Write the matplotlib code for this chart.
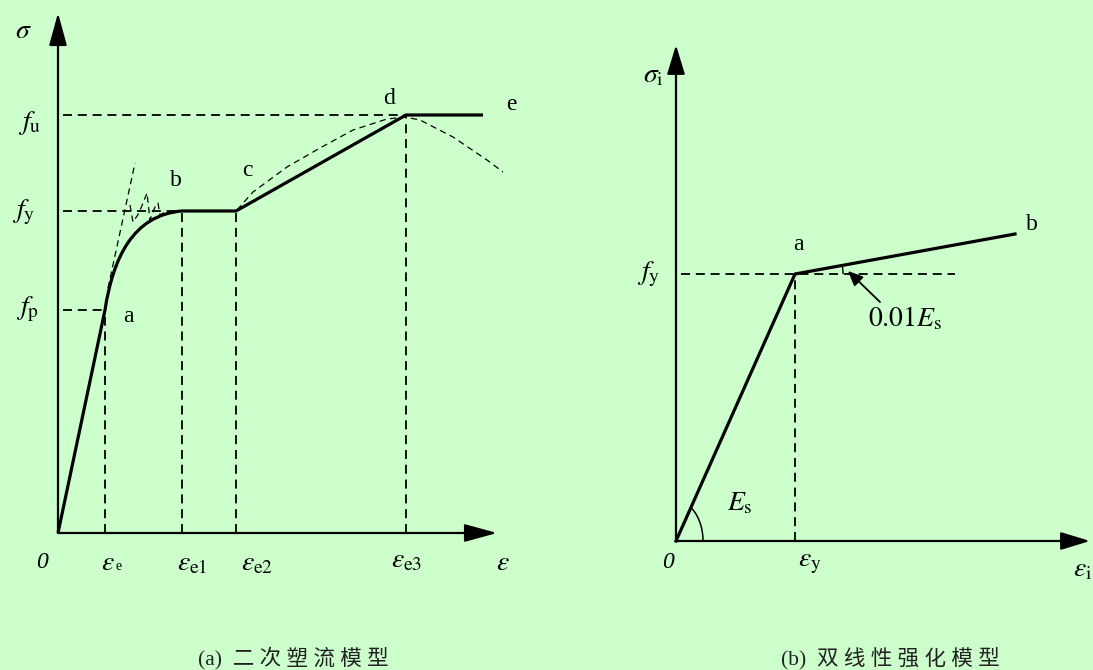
import numpy as np
import matplotlib
matplotlib.use("Agg")
import matplotlib.pyplot as plt
from matplotlib.path import Path
from matplotlib.patches import PathPatch, Arc

BG = "#ccffcc"

# (a) 二次塑流模型：示意单位的应力、应变
fp_a, fy_a, fu_a = 223, 322, 418
eps_e, eps_e1, eps_e2, eps_e3, eps_end = 47, 124, 178, 348, 425
# a→b 段的贝塞尔控制点
ab_ctrl = [(55, 275), (75, 318)]
# 细虚线：初始切线、屈服台阶附近的波动、强化与颈缩的实测曲线
tangent_x = [50, 77]
tangent_y = [245, 370]
wiggle_x = [72, 75, 81, 89, 92, 97, 100, 102, 107]
wiggle_y = [328, 311, 320, 340, 313, 326, 330, 318, 321]
test_x = [179, 195, 229, 262, 295, 329, 347, 362, 395, 429, 445]
test_y = [323, 341, 366, 385, 403, 414, 416, 413, 396, 373, 361]

# (b) 双线性强化模型
fy_b, eps_y = 267, 119
b_end_x, b_end_y = 339, 307
fy_line_end = 279

plt.rcParams["font.family"] = ["Liberation Serif", "Noto Sans CJK SC"]
plt.rcParams["mathtext.fontset"] = "stix"

fig = plt.figure(figsize=(10.93, 6.70), dpi=100, facecolor=BG)
W, H = 1093, 670

# 两个子图都按像素单位设置坐标，原点放在各自坐标轴交点
ax_a = fig.add_axes([0, 0, 0.5, 1])
ax_a.set_xlim(-58, W / 2 - 58)
ax_a.set_ylim(-(H - 533), 533)
ax_b = fig.add_axes([0.5, 0, 0.5, 1])
ax_b.set_xlim(W / 2 - 676, W - 676)
ax_b.set_ylim(-(H - 541), 541)
for ax in (ax_a, ax_b):
    ax.set_facecolor("none")
    ax.axis("off")

LW_MAIN = 2.3
DASH = dict(color="k", lw=1.3, ls=(0, (5, 3.2)))
THIN = dict(color="k", lw=0.9, ls=(0, (5, 3.5)))
LBL = dict(fontsize=17, ha="center", va="center")
MATH = dict(fontsize=20, ha="center", va="center")
ZERO = dict(fontsize=17, ha="center", va="center", style="italic")
CAP = dict(fontsize=15.5, ha="center", va="center", color="#222222")


def axis_arrows(ax, x_tip, y_tip, head):
    for tip in [(x_tip, 0), (0, y_tip)]:
        ax.annotate("", xy=tip, xytext=(0, 0),
                    arrowprops=dict(arrowstyle=head, color="k", lw=1.6,
                                    shrinkA=0, shrinkB=0))


# ---- (a) ----
ax = ax_a
axis_arrows(ax, 439, 520, "-|>,head_length=2.0,head_width=0.55")

verts = [(0, 0), (eps_e, fp_a), ab_ctrl[0], ab_ctrl[1], (eps_e1, fy_a),
         (eps_e2, fy_a), (eps_e3, fu_a), (eps_end, fu_a)]
codes = [Path.MOVETO, Path.LINETO, Path.CURVE4, Path.CURVE4, Path.CURVE4,
         Path.LINETO, Path.LINETO, Path.LINETO]
ax.add_patch(PathPatch(Path(verts, codes), fill=False, lw=LW_MAIN,
                       capstyle="butt", joinstyle="round"))

ax.plot([5, eps_e3], [fu_a, fu_a], **DASH)
ax.plot([5, eps_e1], [fy_a, fy_a], **DASH)
ax.plot([5, eps_e], [fp_a, fp_a], **DASH)
for ex, top in [(eps_e, fp_a), (eps_e1, fy_a), (eps_e2, fy_a), (eps_e3, fu_a)]:
    ax.plot([ex, ex], [0, top], **DASH)

ax.plot(tangent_x, tangent_y, **THIN)
ax.plot(wiggle_x, wiggle_y, **THIN)
ax.plot(test_x, test_y, **THIN)

ax.text(-35, 501, r"$\sigma$", **MATH)
ax.text(-28, 410, r"$f_{\rm u}$", **MATH)
ax.text(-34, 321, r"$f_{\rm y}$", **MATH)
ax.text(-31, 224, r"$f_{\rm p}$", **MATH)
for s, x, y in [("a", 70, 216), ("b", 118, 352), ("c", 189, 362),
                ("d", 331, 434), ("e", 453, 428)]:
    ax.text(x, y, s, **LBL)
ax.text(-16, -29, "0", **ZERO)
ax.text(50, -30, r"$\varepsilon$", **MATH)
ax.text(57, -33, "e", fontsize=10, ha="left", va="center")
ax.text(134, -31, r"$\varepsilon_{\rm e1}$", **MATH)
ax.text(199, -31, r"$\varepsilon_{\rm e2}$", **MATH)
ax.text(349, -28, r"$\varepsilon_{\rm e3}$", **MATH)
ax.text(445, -30, r"$\varepsilon$", **MATH)
ax.text(235, -125, "(a)  二 次 塑 流 模 型", **CAP)

# ---- (b) ----
ax = ax_b
axis_arrows(ax, 414, 496, "-|>,head_length=1.8,head_width=0.55")

ax.plot([0, eps_y, b_end_x], [0, fy_b, b_end_y], color="k", lw=LW_MAIN,
        solid_joinstyle="round")
ax.plot([5, fy_line_end], [fy_b, fy_b], **DASH)
ax.plot([eps_y, eps_y], [0, fy_b], **DASH)

# 弹性模量角标
k = fy_b / eps_y
ra, rb = 27, 40
t = np.linspace(0, np.arctan(k * ra / rb), 40)
ax.plot(ra * np.cos(t), rb * np.sin(t), color="k", lw=1.1)

# 强化段角标与指示箭头
slope_deg = np.degrees(np.arctan((b_end_y - fy_b) / (b_end_x - eps_y)))
ax.add_patch(Arc((eps_y, fy_b), 96, 96, theta1=0, theta2=slope_deg,
                 color="k", lw=1.0))
ax.annotate("", xy=(172, 270), xytext=(204, 239),
            arrowprops=dict(arrowstyle="-|>,head_length=0.9,head_width=0.4",
                            color="k", lw=1.3, shrinkA=0, shrinkB=0))

ax.text(-23, 465, r"$\sigma_{\rm i}$", **MATH)
ax.text(-27, 267, r"$f_{\rm y}$", **MATH)
ax.text(122, 297, "a", **LBL)
ax.text(356, 316, "b", **LBL)
ax.text(229, 222, r"$0.01E_{\rm s}$", **MATH)
ax.text(64, 37, r"$E_{\rm s}$", **MATH)
ax.text(-8, -22, "0", **ZERO)
ax.text(134, -23, r"$\varepsilon_{\rm y}$", **MATH)
ax.text(416, -29, r"$\varepsilon_{\rm i}$", fontsize=20, ha="right",
        va="center")
ax.text(214, -117, "(b)  双 线 性 强 化 模 型", **CAP)

fig.savefig("out.png", dpi=100, facecolor=BG)
